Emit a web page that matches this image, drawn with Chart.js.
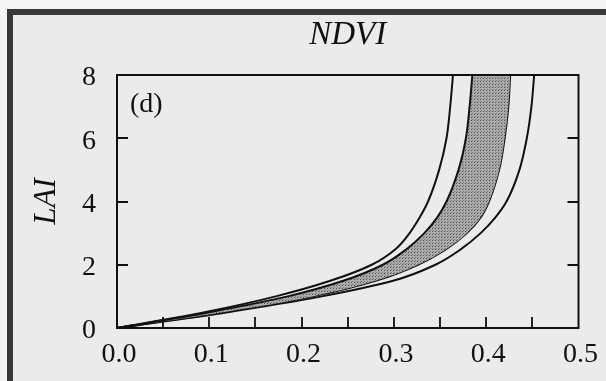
<!DOCTYPE html>
<html>
<head>
<meta charset="utf-8">
<script src="https://cdn.jsdelivr.net/npm/chart.js@4.4.1/dist/chart.umd.min.js"></script>
<style>
  html, body { margin: 0; padding: 0; background: #f4f4f3; }
  #wrap { position: relative; width: 606px; height: 381px; overflow: hidden; }
  #page {
    position: absolute; left: 7px; top: 9px; right: -10px; bottom: -10px;
    background: #ebebe9;
    border-left: 6px solid #383838; border-top: 6px solid #383838;
  }
  #chart { position: absolute; left: 0; top: 0; }
</style>
</head>
<body>
<div id="wrap">
  <div id="page"></div>
  <canvas id="chart" width="606" height="381"></canvas>
</div>
<script>
/* 
   LAI vs NDVI envelopes
 */

// every curve is sampled at the same LAI levels
const laiLevels = [0, 0.5, 1, 1.5, 2, 2.5, 3, 3.5, 4, 5, 6, 7, 8];

// outer envelope, left edge
const ndviA = [0, 0.095, 0.172, 0.232, 0.276, 0.302, 0.317, 0.328, 0.337, 0.349, 0.357, 0.361, 0.364];
// shaded band, left edge
const ndviB = [0, 0.100, 0.185, 0.246, 0.288, 0.314, 0.333, 0.347, 0.357, 0.370, 0.378, 0.382, 0.385];
// shaded band, right edge
const ndviC = [0, 0.115, 0.212, 0.281, 0.326, 0.357, 0.379, 0.394, 0.403, 0.414, 0.420, 0.424, 0.426];
// outer envelope, right edge
const ndviD = [0, 0.120, 0.222, 0.300, 0.345, 0.373, 0.394, 0.410, 0.422, 0.436, 0.444, 0.449, 0.452];

const xLabelTicks = [0, 0.1, 0.2, 0.3, 0.4, 0.5];
const xMinorTicks = [0.05, 0.1, 0.15, 0.2, 0.25, 0.3, 0.35, 0.4, 0.45];
const ySideTicks  = [2, 4, 6];

const SERIF = '"Liberation Serif", "DejaVu Serif", serif';
const INK = '#111111';

function toPoints(xs) {
    return xs.map((x, i) => ({ x: x, y: laiLevels[i] }));
}

// stipple for the shaded band
function stipple() {
    const c = document.createElement('canvas');
    c.width = 3; c.height = 3;
    const g = c.getContext('2d');
    g.fillStyle = '#ababab';
    g.fillRect(0, 0, 3, 3);
    g.fillStyle = '#4e4e4e';
    g.fillRect(0, 0, 1, 1);
    g.fillStyle = '#7a7a7a';
    g.fillRect(1, 2, 1, 1);
    return g.createPattern(c, 'repeat');
}

// frame, inward ticks and panel tag
const framePlugin = {
    id: 'frame',
    afterDraw(chart) {
        const { ctx, chartArea: a, scales: { x, y } } = chart;
        ctx.save();
        ctx.strokeStyle = INK;
        ctx.lineWidth = 2;
        ctx.strokeRect(a.left, a.top, a.right - a.left, a.bottom - a.top);

        ctx.lineWidth = 1.8;
        ctx.beginPath();
        xMinorTicks.forEach(v => {
            const px = Math.round(x.getPixelForValue(v));
            ctx.moveTo(px, a.bottom);
            ctx.lineTo(px, a.bottom - 11);
        });
        ySideTicks.forEach(v => {
            const py = Math.round(y.getPixelForValue(v));
            ctx.moveTo(a.left, py);
            ctx.lineTo(a.left + 11, py);
            ctx.moveTo(a.right, py);
            ctx.lineTo(a.right - 11, py);
        });
        ctx.stroke();

        ctx.fillStyle = INK;
        ctx.font = '28px ' + SERIF;
        ctx.textBaseline = 'alphabetic';
        ctx.fillText('(d)', a.left + 13, a.top + 37);
        ctx.restore();
    }
};

const lineStyle = {
    borderColor: INK,
    borderWidth: 2,
    pointRadius: 0,
    cubicInterpolationMode: 'monotone',
    fill: false
};

new Chart(document.getElementById('chart'), {
    type: 'line',
    data: {
        datasets: [
            { ...lineStyle, data: toPoints(ndviA) },
            { ...lineStyle, data: toPoints(ndviB), fill: '+1', backgroundColor: stipple() },
            { ...lineStyle, data: toPoints(ndviC) },
            { ...lineStyle, data: toPoints(ndviD) }
        ]
    },
    options: {
        responsive: false,
        animation: false,
        indexAxis: 'y',
        layout: { padding: { left: 0, right: 24, top: 0, bottom: 0 } },
        plugins: {
            legend: { display: false },
            tooltip: { enabled: false },
            title: {
                display: true,
                text: 'NDVI',
                fullSize: false,
                color: INK,
                font: { family: SERIF, size: 33, style: 'italic', weight: 'normal', lineHeight: 1.2 },
                padding: { top: 16, bottom: 19.4 }
            }
        },
        scales: {
            x: {
                type: 'linear',
                min: 0, max: 0.5,
                grid: { display: false, drawTicks: false },
                border: { display: false },
                afterBuildTicks(s) { s.ticks = xLabelTicks.map(v => ({ value: v })); },
                ticks: {
                    autoSkip: false,
                    maxRotation: 0,
                    padding: 10,
                    labelOffset: 2,
                    color: INK,
                    font: { family: SERIF, size: 28 },
                    callback: v => Number(v).toFixed(1)
                },
                afterFit(s) { s.height = 53; }
            },
            y: {
                type: 'linear',
                min: 0, max: 8,
                grid: { display: false, drawTicks: false },
                border: { display: false },
                ticks: {
                    stepSize: 2,
                    padding: 21,
                    labelOffset: 3,
                    color: INK,
                    font: { family: SERIF, size: 28 }
                },
                title: {
                    display: true,
                    text: 'LAI',
                    color: INK,
                    font: { family: SERIF, size: 31, style: 'italic', lineHeight: 1.2 },
                    padding: { top: 28, bottom: 0 }
                },
                afterFit(s) { s.width = 117; }
            }
        }
    },
    plugins: [framePlugin]
});
</script>
</body>
</html>
